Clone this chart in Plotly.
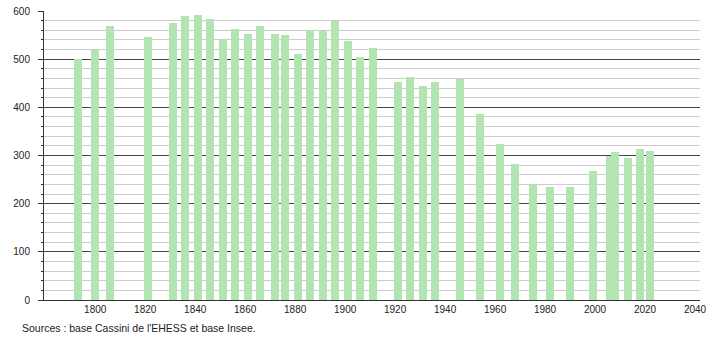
import plotly.graph_objects as go

years = [1793, 1800, 1806, 1821, 1831, 1836, 1841, 1846, 1851, 1856,
         1861, 1866, 1872, 1876, 1881, 1886, 1891, 1896, 1901, 1906,
         1911, 1921, 1926, 1931, 1936, 1946, 1954, 1962, 1968, 1975,
         1982, 1990, 1999, 2006, 2008, 2013, 2018, 2022]
population = [500, 520, 568, 547, 576, 589, 591, 583, 541, 562,
              552, 568, 552, 550, 510, 560, 558, 579, 537, 504,
              523, 452, 462, 444, 452, 459, 386, 323, 282, 240,
              234, 234, 267, 300, 307, 294, 313, 309]
x_ticks = [1800, 1820, 1840, 1860, 1880, 1900, 1920, 1940, 1960, 1980, 2000, 2020, 2040]
y_ticks = [0, 100, 200, 300, 400, 500, 600]
source_text = "Sources : base Cassini de l'EHESS et base Insee."

fig = go.Figure(go.Bar(
    x=years, y=population, width=3.2,
    marker=dict(color="#b3e5b3", line=dict(width=0)),
    hoverinfo="x+y",
))

fig.update_layout(
    width=710, height=340,
    margin=dict(l=44, r=10, t=11, b=40),
    paper_bgcolor="white", plot_bgcolor="white",
    font=dict(family="Liberation Sans, Arial, sans-serif", size=10, color="#222"),
    showlegend=False,
    bargap=0,
)
fig.update_xaxes(
    range=[1779.5, 2042], tickvals=x_ticks, ticks="", showgrid=False,
    showline=True, linecolor="#333", linewidth=1, zeroline=False,
    ticklabelstandoff=0, automargin=False,
)
fig.update_yaxes(
    range=[0, 600], tickvals=y_ticks, ticks="outside", ticklen=5, tickcolor="#333",
    showgrid=True, gridcolor="#444", gridwidth=1,
    showline=True, linecolor="#333", linewidth=1, zeroline=False,
    ticklabelstandoff=6, automargin=False,
    minor=dict(dtick=20, ticks="outside", ticklen=2, tickcolor="#333",
               showgrid=True, gridcolor="#cccccc", gridwidth=1),
)
fig.add_annotation(
    text=source_text, xref="paper", yref="paper",
    x=(20 - 44) / 656, y=(300 - 328) / 289, xanchor="left", yanchor="middle",
    showarrow=False, font=dict(size=10.5, color="#222"),
)
fig.write_html("out.html")
